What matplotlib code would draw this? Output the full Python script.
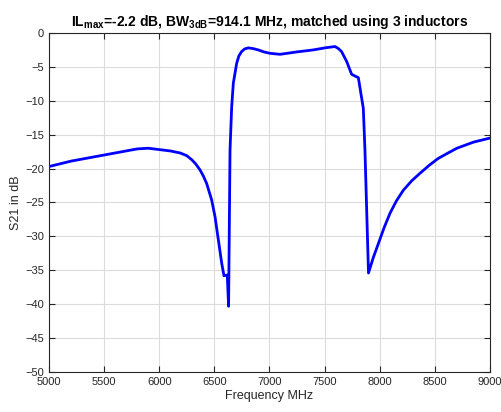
import matplotlib
matplotlib.use("Agg")
import matplotlib.pyplot as plt

freq = [5000, 5200, 5400, 5600, 5800, 5900, 6000, 6100, 6190, 6250, 6295, 6330,
        6370, 6400, 6430, 6475, 6506, 6536, 6566, 6587, 6617, 6629, 6642, 6657,
        6672, 6702, 6722, 6747, 6775, 6808, 6850, 6898, 6950, 7004, 7095, 7246,
        7397, 7503, 7594, 7625, 7654, 7700, 7745, 7806, 7851, 7866, 7898, 7940,
        7989, 8040, 8093, 8150, 8214, 8290, 8365, 8450, 8531, 8620, 8700, 8850,
        9000]
s21 = [-19.7, -18.9, -18.3, -17.7, -17.1, -17.0, -17.2, -17.4, -17.7, -18.1,
       -18.7, -19.3, -20.2, -21.1, -22.2, -24.6, -27.1, -30.5, -33.9, -35.8,
       -35.7, -40.3, -17.3, -10.9, -7.4, -4.5, -3.4, -2.75, -2.35, -2.2, -2.3,
       -2.5, -2.8, -3.0, -3.15, -2.8, -2.5, -2.2, -2.0, -2.3, -2.75, -4.2,
       -6.1, -6.6, -11.1, -17.3, -35.4, -33.2, -31.0, -28.7, -26.6, -24.8,
       -23.2, -21.8, -20.7, -19.5, -18.5, -17.7, -17.0, -16.1, -15.5]

plt.rcParams['font.family'] = 'Liberation Sans'
plt.rcParams['mathtext.fontset'] = 'custom'
plt.rcParams['mathtext.bf'] = 'Liberation Sans:bold'
plt.rcParams['mathtext.rm'] = 'Liberation Sans'

fig = plt.figure(figsize=(5.01, 4.12), dpi=100)
ax = fig.add_axes([0.0978, 0.0971, 0.8802, 0.8229])
ax.plot(freq, s21, color='#0000ff', lw=2)
ax.set_xlim(5000, 9000)
ax.set_ylim(-50, 0)
ax.set_xticks(range(5000, 9001, 500))
ax.set_yticks(range(-50, 1, 5))
ax.grid(True, color='#dcdcdc', lw=0.8)
ax.tick_params(direction='in', top=True, right=True, labelsize=8, length=4,
               color='#262626', labelcolor='#262626')
for s in ax.spines.values():
    s.set_color('#262626')
    s.set_linewidth(0.8)
ax.set_xlabel('Frequency MHz', fontsize=9, color='#262626', labelpad=2)
ax.set_ylabel('S21 in dB', fontsize=9, color='#262626', labelpad=2)
ax.set_title(r'IL$_{\mathbf{max}}$=-2.2 dB, BW$_{\mathbf{3dB}}$=914.1 MHz, matched using 3 inductors',
             fontsize=10, fontweight='bold', pad=5)
fig.savefig('out.png', dpi=100)
